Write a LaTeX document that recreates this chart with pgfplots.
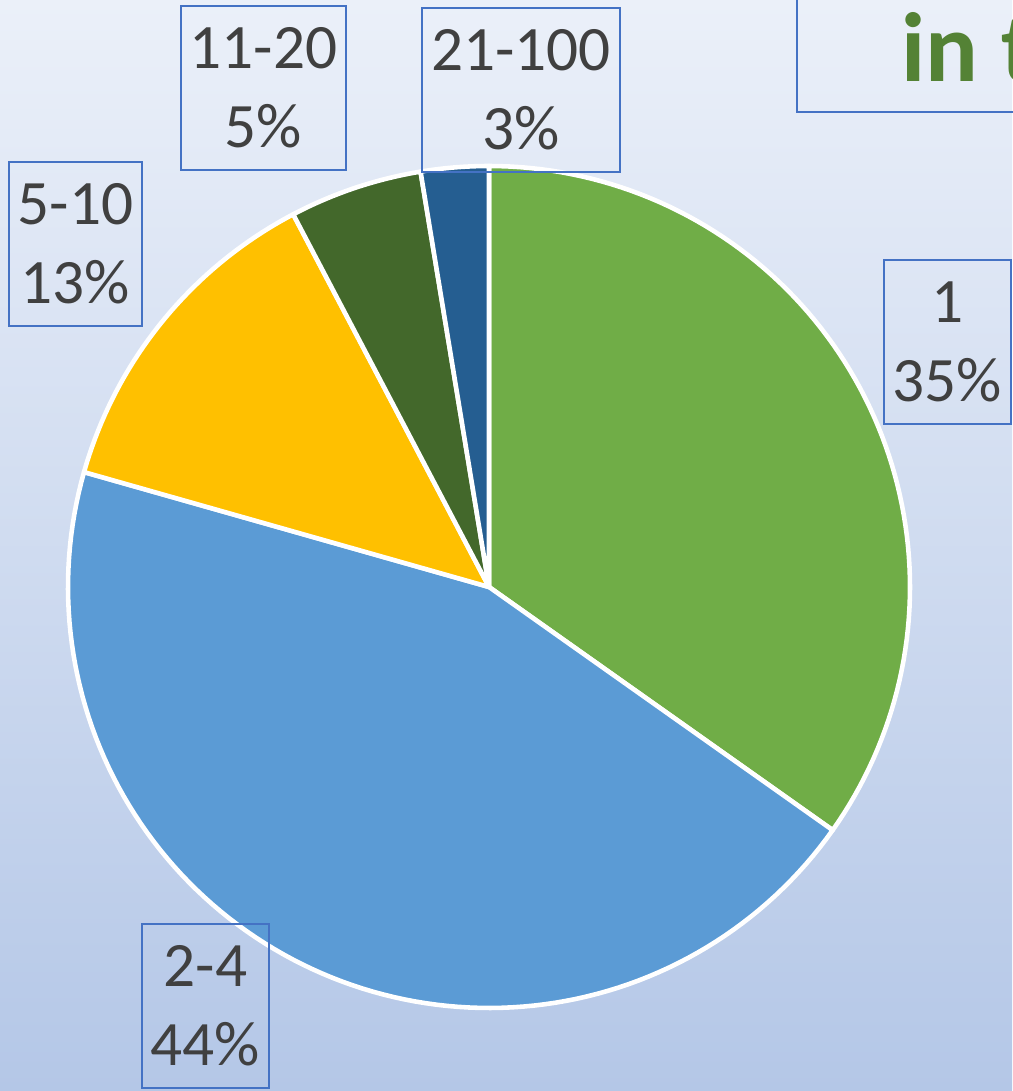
\documentclass[border=0pt]{standalone}
\usepackage{pgfplots}
\pgfplotsset{compat=1.18}
\usepackage{fontspec}
\setmainfont{Carlito}
\definecolor{cOne}{HTML}{70AD47}
\definecolor{cTwo}{HTML}{5B9BD5}
\definecolor{cFive}{HTML}{FFC000}
\definecolor{cEleven}{HTML}{43682B}
\definecolor{cTwentyOne}{HTML}{255E91}
\definecolor{cBox}{HTML}{4472C4}
\definecolor{cText}{HTML}{404040}
\definecolor{cTitle}{HTML}{548235}
\definecolor{bgTop}{HTML}{EBF0F9}
\definecolor{bgBot}{HTML}{B4C7E7}
% shares in percent, clockwise from 12 o'clock
\def\pA{34.8}
\def\pB{44.6}
\def\pC{12.9}
\def\pD{5.1}
\def\pE{2.6}
\begin{document}
\begin{tikzpicture}
\pgfmathsetmacro\aZ{90}
\pgfmathsetmacro\aA{\aZ-3.6*\pA}
\pgfmathsetmacro\aB{\aA-3.6*\pB}
\pgfmathsetmacro\aC{\aB-3.6*\pC}
\pgfmathsetmacro\aD{\aC-3.6*\pD}
\pgfmathsetmacro\aE{\aD-3.6*\pE}
\begin{axis}[
  scale only axis, width=10.12cm, height=10.91cm,
  xmin=0, xmax=1012, ymin=0, ymax=1091,
  axis line style={draw=none}, ticks=none, clip=false,
  axis background/.style={top color=bgTop, bottom color=bgBot},
]
\addplot[fill=cOne, draw=white, line width=1.3pt, line join=round, domain=\aA:\aZ, samples=90, variable=\t] ({489+421*cos(\t)},{504+421*sin(\t)}) -- (489,504) -- cycle;
\addplot[fill=cTwo, draw=white, line width=1.3pt, line join=round, domain=\aB:\aA, samples=110, variable=\t] ({489+421*cos(\t)},{504+421*sin(\t)}) -- (489,504) -- cycle;
\addplot[fill=cFive, draw=white, line width=1.3pt, line join=round, domain=\aC:\aB, samples=40, variable=\t] ({489+421*cos(\t)},{504+421*sin(\t)}) -- (489,504) -- cycle;
\addplot[fill=cEleven, draw=white, line width=1.3pt, line join=round, domain=\aD:\aC, samples=20, variable=\t] ({489+421*cos(\t)},{504+421*sin(\t)}) -- (489,504) -- cycle;
\addplot[fill=cTwentyOne, draw=white, line width=1.3pt, line join=round, domain=\aE:\aD, samples=12, variable=\t] ({489+421*cos(\t)},{504+421*sin(\t)}) -- (489,504) -- cycle;
% data labels
\tikzset{lbl/.style={draw=cBox, line width=0.65pt, text=cText, align=center, inner sep=0pt, minimum height=1.64cm, font=\fontsize{18}{22.4}\selectfont}}
\node[lbl, minimum width=1.65cm] at (263.5,1003) {11-20\\5\%};
\node[lbl, minimum width=1.98cm] at (521,1001) {21-100\\3\%};
\node[lbl, minimum width=1.33cm] at (75.5,847) {5-10\\13\%};
\node[lbl, minimum width=1.27cm] at (947.5,749) {1\\35\%};
\node[lbl, minimum width=1.27cm] at (205.5,85) {2-4\\44\%};
% title box (cut by the picture edge)
\draw[cBox, line width=0.65pt] (1150,1200) -- (797,1200) -- (797,979) -- (1150,979);
\node[anchor=base west, inner sep=0pt, text=cTitle, font=\fontsize{28}{34}\selectfont\bfseries] at (901,1009) {in the};
\end{axis}
\pgfresetboundingbox
\path (current axis.south west) rectangle (current axis.north east);
\end{tikzpicture}
\end{document}
